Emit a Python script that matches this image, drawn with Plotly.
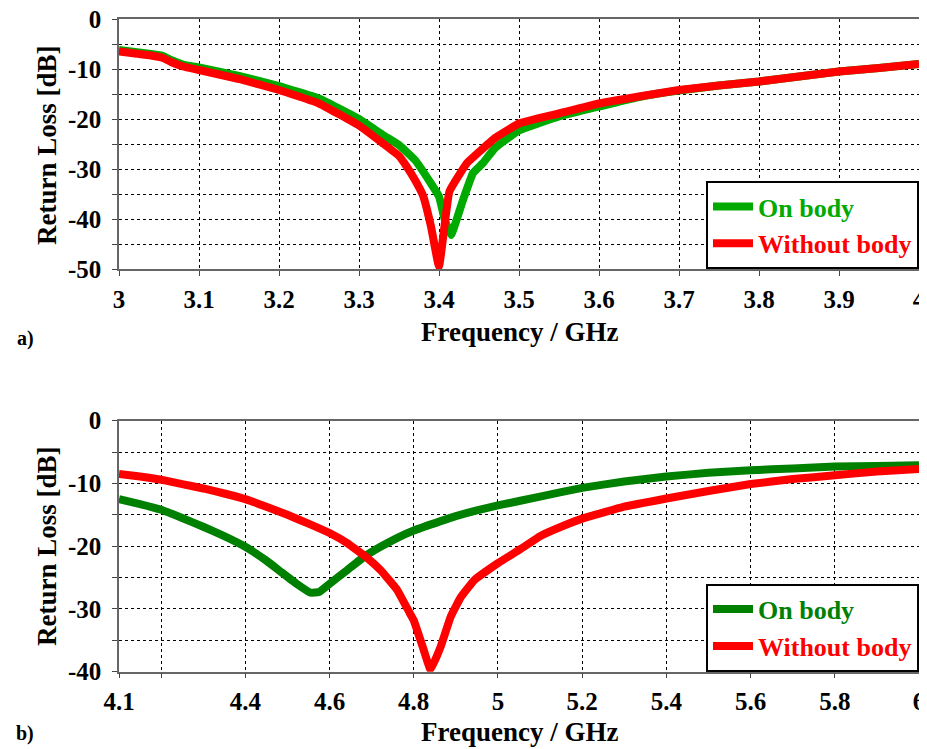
import plotly.graph_objects as go

# ---------------- data: panel a) ----------------
freq_a_on = [3.0, 3.02, 3.04, 3.055, 3.065, 3.08, 3.1, 3.15, 3.2, 3.25, 3.3, 3.33, 3.35, 3.37,
             3.39, 3.40, 3.407, 3.415, 3.43, 3.4425, 3.455, 3.47, 3.5, 3.55, 3.6, 3.65, 3.7,
             3.75, 3.8, 3.85, 3.9, 3.95, 4.0]
rl_a_on = [-6.2, -6.6, -7.0, -7.4, -8.2, -9.1, -9.7, -11.4, -13.4, -15.9, -20.0, -23.2, -25.2, -28.2,
           -32.9, -35.5, -40.0, -43.2, -36.2, -30.8, -28.8, -25.8, -22.3, -19.5, -17.5, -15.6, -14.3,
           -13.3, -12.5, -11.5, -10.5, -9.8, -9.0]

freq_a_off = [3.0, 3.02, 3.04, 3.055, 3.065, 3.08, 3.1, 3.15, 3.2, 3.25, 3.3, 3.33, 3.35, 3.36,
              3.37, 3.38, 3.39, 3.40, 3.413, 3.435, 3.45, 3.47, 3.5, 3.55, 3.6, 3.65, 3.7, 3.75,
              3.8, 3.85, 3.9, 3.95, 4.0]
rl_a_off = [-6.5, -6.9, -7.3, -7.8, -8.6, -9.5, -10.2, -12.0, -14.2, -16.9, -21.3, -24.9, -27.4, -29.6,
            -32.2, -35.3, -41.5, -49.5, -34.5, -28.8, -26.6, -23.8, -20.9, -18.9, -16.9, -15.5, -14.2,
            -13.3, -12.5, -11.5, -10.5, -9.8, -9.0]

# ---------------- data: panel b) ----------------
freq_b_on = [4.1, 4.15, 4.2, 4.25, 4.3, 4.35, 4.4, 4.45, 4.483, 4.52, 4.555, 4.575, 4.6, 4.642, 4.682,
             4.721, 4.76, 4.8, 4.864, 4.9, 4.95, 5.0, 5.1, 5.2, 5.3, 5.4, 5.5, 5.6, 5.7, 5.8,
             5.9, 6.0]
rl_b_on = [-12.5, -13.3, -14.2, -15.5, -16.9, -18.4, -20.1, -22.3, -24.0, -25.9, -27.4, -27.3, -26.0,
           -23.8, -21.7, -20.1, -18.7, -17.5, -16.0, -15.2, -14.3, -13.5, -12.1, -10.7, -9.7,
           -8.9, -8.3, -7.9, -7.6, -7.3, -7.2, -7.1]

freq_b_off = [4.1, 4.15, 4.2, 4.25, 4.3, 4.35, 4.4, 4.45, 4.5, 4.55, 4.6, 4.642, 4.69, 4.721, 4.761,
              4.79, 4.8, 4.824, 4.84, 4.864, 4.888, 4.912, 4.944, 5.0, 5.055, 5.1, 5.15, 5.2, 5.3,
              5.4, 5.5, 5.6, 5.7, 5.8, 5.9, 6.0]
rl_b_off = [-8.5, -8.9, -9.4, -10.1, -10.8, -11.6, -12.5, -13.7, -15.0, -16.4, -17.9, -19.5, -21.9,
            -23.8, -27.0, -30.6, -31.8, -36.6, -39.7, -36.0, -31.2, -28.1, -25.4, -22.7, -20.4, -18.4,
            -16.9, -15.6, -13.7, -12.4, -11.2, -10.1, -9.3, -8.7, -8.1, -7.7]

# tick definitions
xticks_a = [3.0, 3.1, 3.2, 3.3, 3.4, 3.5, 3.6, 3.7, 3.8, 3.9, 4.0]
xtext_a = ["3", "3.1", "3.2", "3.3", "3.4", "3.5", "3.6", "3.7", "3.8", "3.9", "4"]
yticks_a = [0, -5, -10, -15, -20, -25, -30, -35, -40, -45, -50]
ytext_a = ["0", "", "-10", "", "-20", "", "-30", "", "-40", "", "-50"]

xticks_b = [4.1, 4.2, 4.4, 4.6, 4.8, 5.0, 5.2, 5.4, 5.6, 5.8, 6.0]
xtext_b = ["4.1", "", "4.4", "4.6", "4.8", "5", "5.2", "5.4", "5.6", "5.8", "6"]
yticks_b = [0, -5, -10, -15, -20, -25, -30, -35, -40]
ytext_b = ["0", "", "-10", "", "-20", "", "-30", "", "-40"]

names = ["On body", "Without body"]

GREEN_A = "#00AA00"
GREEN_B = "#008000"
RED = "#FF0000"
FONT = "Times New Roman"
OFF = 8                      # page body margin
W, H = 927 - OFF, 749 - OFF

def px(x):
    return (x - OFF) / W

def py(y):
    return 1 - (y - OFF) / H

fig = go.Figure()

line_kw = dict(width=8, shape="spline", smoothing=0.3)
fig.add_trace(go.Scatter(x=freq_a_on, y=rl_a_on, mode="lines", line=dict(color=GREEN_A, **line_kw),
                         name=f"<span style='color:{GREEN_A}'>{names[0]}</span>",
                         xaxis="x", yaxis="y", legend="legend"))
fig.add_trace(go.Scatter(x=freq_a_off, y=rl_a_off, mode="lines", line=dict(color=RED, **line_kw),
                         name=f"<span style='color:{RED}'>{names[1]}</span>",
                         xaxis="x", yaxis="y", legend="legend"))
fig.add_trace(go.Scatter(x=freq_b_on, y=rl_b_on, mode="lines", line=dict(color=GREEN_B, **line_kw),
                         name=f"<span style='color:{GREEN_B}'>{names[0]}</span>",
                         xaxis="x2", yaxis="y2", legend="legend2"))
fig.add_trace(go.Scatter(x=freq_b_off, y=rl_b_off, mode="lines", line=dict(color=RED, **line_kw),
                         name=f"<span style='color:{RED}'>{names[1]}</span>",
                         xaxis="x2", yaxis="y2", legend="legend2"))

x0, x1 = px(119), px(919)
ya = [py(269), py(19)]
yb = [py(671.7), py(420.7)]

tickfont = dict(family=FONT, size=25, color="black", weight="bold")
common = dict(showgrid=True, gridcolor="black", griddash="3px,3px", gridwidth=1,
              showline=True, mirror=True, linecolor="#666666", linewidth=1.5,
              ticks="outside", ticklen=5, tickcolor="#444444", tickfont=tickfont,
              zeroline=False, tickmode="array", automargin=False, ticklabeloverflow="allow")
xcommon = dict(ticklabelstandoff=2, **common)
ycommon = dict(ticklabelstandoff=6, **common)

legend_common = dict(x=x1, xanchor="right", bgcolor="white",
                     bordercolor="black", borderwidth=2, itemwidth=40, traceorder="normal",
                     font=dict(family=FONT, size=26, weight="bold"))

fig.update_layout(
    width=W, height=H, margin=dict(l=0, r=0, t=0, b=0, autoexpand=False),
    paper_bgcolor="white", plot_bgcolor="white",
    xaxis=dict(domain=[x0, x1], anchor="y", range=[3, 4], tickvals=xticks_a, ticktext=xtext_a, **xcommon),
    yaxis=dict(domain=ya, anchor="x", range=[-50, 0], tickvals=yticks_a, ticktext=ytext_a, **ycommon),
    xaxis2=dict(domain=[x0, x1], anchor="y2", range=[4.1, 6], tickvals=xticks_b, ticktext=xtext_b, **xcommon),
    yaxis2=dict(domain=yb, anchor="x2", range=[-40, 0], tickvals=yticks_b, ticktext=ytext_b, **ycommon),
    legend=dict(y=ya[0], yanchor="bottom", **legend_common),
    legend2=dict(y=yb[0], yanchor="bottom", **legend_common),
    showlegend=True,
)

ann_font = dict(family=FONT, size=27, color="black", weight="bold")
ann_kw = dict(xref="paper", yref="paper", xanchor="center", yanchor="middle", showarrow=False)
fig.add_annotation(text="Return Loss [dB]", x=px(47), y=py(145), textangle=-90, font=ann_font, **ann_kw)
fig.add_annotation(text="Return Loss [dB]", x=px(47), y=py(546), textangle=-90, font=ann_font, **ann_kw)
fig.add_annotation(text="Frequency / GHz", x=px(519), y=py(332), font=ann_font, **ann_kw)
fig.add_annotation(text="Frequency / GHz", x=px(519), y=py(732), font=ann_font, **ann_kw)
lab_font = dict(family=FONT, size=20, color="black", weight="bold")
fig.add_annotation(text="a)", x=px(25), y=py(338), font=lab_font, **ann_kw)
fig.add_annotation(text="b)", x=px(25), y=py(733), font=lab_font, **ann_kw)

fig.write_html("out.html")
